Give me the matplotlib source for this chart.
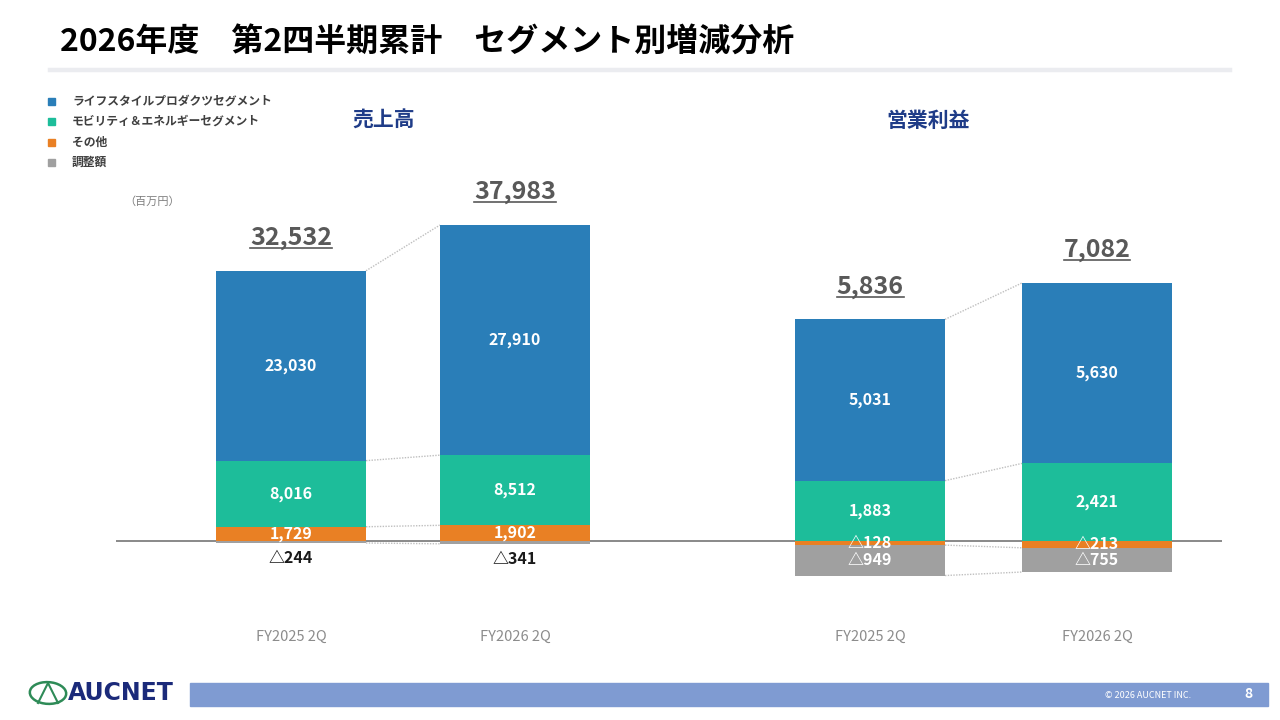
import matplotlib
matplotlib.use("Agg")
import matplotlib.pyplot as plt
from matplotlib.lines import Line2D
from matplotlib.patches import Rectangle, Ellipse

plt.rcParams['font.family'] = ['Noto Sans CJK JP', 'DejaVu Sans']

# data (百万円)
categories = ["FY2025 2Q", "FY2026 2Q"]
segments = ["ライフスタイルプロダクツセグメント", "モビリティ＆エネルギーセグメント", "その他", "調整額"]
colors = ["#2A7EB8", "#1DBD9A", "#E98024", "#A0A0A0"]

sales_lifestyle = [23030, 27910]
sales_mobility = [8016, 8512]
sales_other = [1729, 1902]
sales_adjust = [-244, -341]
sales_total = [32532, 37983]

op_lifestyle = [5031, 5630]
op_mobility = [1883, 2421]
op_other = [-128, -213]
op_adjust = [-949, -755]
op_total = [5836, 7082]

W, H = 1280, 720
fig = plt.figure(figsize=(W / 100, H / 100), dpi=100)


def fx(x):
    return x / W


def fy(y):
    return 1 - y / H


# title
fig.text(fx(60), fy(43), "2026年度　第2四半期累計　セグメント別増減分析",
         fontsize=23, fontweight="bold", color="black", va="center", ha="left")
fig.add_artist(Line2D([fx(50), fx(1230)], [fy(70), fy(70)], color="#EBECF0", lw=3.2))

# legend
for i, (name, c) in enumerate(zip(segments, colors)):
    yy = [101, 121, 142, 162][i]
    fig.add_artist(Rectangle((fx(48), fy(yy + 3.5)), 7 / W, 7 / H, color=c))
    fig.text(fx(72), fy(yy), name, fontsize=8.5, fontweight="bold", color="#404040",
             va="center", ha="left")
fig.text(fx(152), fy(202), "（百万円）", fontsize=8, color="#7F7F7F", va="center", ha="center")

# panel headers
fig.text(fx(384), fy(120), "売上高", fontsize=15, fontweight="bold", color="#1F3C88",
         ha="center", va="center")
fig.text(fx(928), fy(120), "営業利益", fontsize=15, fontweight="bold", color="#1F3C88",
         ha="center", va="center")

ax_top, ax_bot, base_px = 170, 620, 541
panels = [
    # (x pixel span, bar centres px, units per pixel, series, totals)
    ((116, 669), (291, 515), 121.28,
     [sales_other, sales_mobility, sales_lifestyle, sales_adjust], sales_total),
    ((669, 1222), (870, 1097), 31.2,
     [op_other, op_mobility, op_lifestyle, op_adjust], op_total),
]
order_colors = [colors[2], colors[1], colors[0], colors[3]]

totals_texts = []
for (x0, x1), (c0, c1), upp, series, totals in panels:
    ax = fig.add_axes([fx(x0), fy(ax_bot), (x1 - x0) / W, (ax_bot - ax_top) / H])
    ppu = c1 - c0
    ax.set_xlim((x0 - c0) / ppu, (x1 - c0) / ppu)
    ax.set_ylim(-(ax_bot - base_px) * upp, (base_px - ax_top) * upp)
    ax.axis("off")
    ax.axhline(0, color="#808080", lw=1.3, zorder=0)
    bw = 150 / ppu
    xs = [0, 1]

    pos = [0.0, 0.0]
    neg = [0.0, 0.0]
    levels = [[], []]
    for vals, col in zip(series, order_colors):
        for j, v in enumerate(vals):
            if v >= 0:
                bottom = pos[j]
                pos[j] += v
                levels[j].append(pos[j])
            else:
                bottom = neg[j]
                neg[j] += v
                levels[j].append(neg[j])
            ax.bar(xs[j], v, bottom=bottom, width=bw, color=col, edgecolor="none", zorder=2)
            mid = bottom + v / 2
            label = f"{v:,}" if v >= 0 else f"△{-v:,}"
            if abs(v) / upp < 3:
                ax.annotate(label, (xs[j], bottom + v), xytext=(0, -11),
                            textcoords="offset points", ha="center", va="center",
                            fontsize=11.5, fontweight="bold", color="#1A1A1A", zorder=4)
            else:
                ax.text(xs[j], mid, label, ha="center", va="center",
                        fontsize=11.5, fontweight="bold", color="white", zorder=4)

    # dotted connectors between bars
    for a, b in zip(levels[0], levels[1]):
        ax.plot([xs[0] + bw / 2, xs[1] - bw / 2], [a, b], ls=(0, (1, 1)),
                color="#BFBFBF", lw=1, zorder=1)
    for j in range(2):
        t = ax.annotate(f"{totals[j]:,}", (xs[j], pos[j]), xytext=(0, 15),
                        textcoords="offset points", ha="center", va="bottom",
                        fontsize=18, fontweight="bold", color="#595959")
        totals_texts.append(t)
        ax.text(xs[j], -(637 - base_px) * upp, categories[j], ha="center", va="center",
                fontsize=10.5, color="#8C8C8C")

# footer
fig.add_artist(Rectangle((fx(190), fy(706)), (1268 - 190) / W, 23 / H, color="#7F9BD2"))
fig.text(fx(1148), fy(695), "© 2026 AUCNET INC.", fontsize=6.5, color="white",
         ha="center", va="center")
fig.text(fx(1248), fy(694), "8", fontsize=10, fontweight="bold", color="white",
         ha="center", va="center")
fig.add_artist(Ellipse((fx(48), fy(693)), 36 / W, 22 / H, angle=20, fill=False,
                       edgecolor="#2E8B57", lw=1.8))
fig.add_artist(Line2D([fx(38), fx(48), fx(58)], [fy(703), fy(683), fy(703)],
                      color="#2E8B57", lw=1.5))
fig.text(fx(68), fy(693), "AUCNET", fontsize=17, fontweight="bold", color="#1B2A7A",
         ha="left", va="center", family=["Liberation Sans Narrow", "DejaVu Sans"])

# underline the totals
fig.canvas.draw()
r = fig.canvas.get_renderer()
for t in totals_texts:
    bb = t.get_window_extent(r)
    yl = (bb.y0 + 2) / H
    fig.add_artist(Line2D([bb.x0 / W, bb.x1 / W], [yl, yl], color="#595959", lw=1.2))

fig.savefig("out.png", dpi=100)
